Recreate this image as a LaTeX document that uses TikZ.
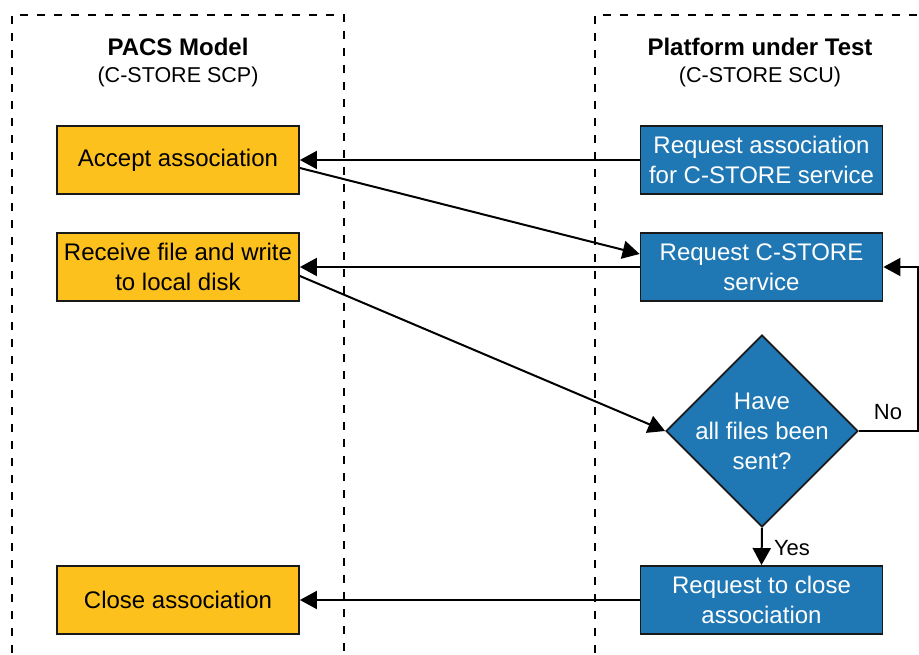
\documentclass[tikz,border=0pt]{standalone}
\usepackage{fontspec}
\setmainfont{Liberation Sans}
\usetikzlibrary{arrows.meta,shapes.geometric}
\definecolor{scpyellow}{RGB}{253,193,30}
\definecolor{scublue}{RGB}{31,119,180}
\definecolor{edgegray}{RGB}{25,25,25}
\tikzset{
  lane/.style={draw=black, line width=2pt, dash pattern=on 8pt off 9pt},
  box/.style={draw=edgegray, line width=1.8pt, minimum width=242pt, minimum height=68pt,
    inner sep=0pt, align=center, font=\fontsize{24}{30}\selectfont},
  scpbox/.style={box, fill=scpyellow, text=black},
  scubox/.style={box, fill=scublue, text=white},
  decision/.style={diamond, draw=edgegray, line width=1.8pt, fill=scublue,
    minimum width=192pt, minimum height=192pt, inner sep=0pt},
  title/.style={font=\fontsize{24}{28}\selectfont\bfseries, anchor=base},
  subtitle/.style={font=\fontsize{21.5}{25}\selectfont, anchor=base},
  flow/.style={line width=2pt, -{Triangle[length=17pt, width=18pt]}},
  tag/.style={font=\fontsize{22}{26}\selectfont}
}
\begin{document}
\begin{tikzpicture}[x=1pt, y=-1pt]
\useasboundingbox (0,0) rectangle (919,655);
% swim lanes, open at the bottom
\draw[lane] (12,670) -- (12,15) -- (344,15) -- (344,670);
\draw[lane] (595,670) -- (595,15) -- (930,15);
% lane headings
\node[title] (scptitle) at (178,56) {PACS Model};
\node[subtitle] (scpsub) at (178,83) {(C-STORE SCP)};
\node[title] (scutitle) at (760,56) {Platform under Test};
\node[subtitle] (scusub) at (760,83) {(C-STORE SCU)};
% PACS model steps
\node[scpbox] (accept) at (178,160) {Accept association};
\node[scpbox] (receive) at (178,267) {Receive file and write\\to local disk};
\node[scpbox] (closeA) at (178,600) {Close association};
% platform steps
\node[scubox] (reqassoc) at (761.5,160) {Request association\\for C-STORE service};
\node[scubox] (reqstore) at (761.5,267) {Request C-STORE\\service};
\node[decision] (sent) at (762,431) {};
\node[align=center, text=white, font=\fontsize{24}{30}\selectfont] (senttxt) at (762,431) {Have\\all files been\\sent?};
\node[scubox] (closeR) at (761.5,600) {Request to close\\association};
% messages between the lanes
\draw[flow] (reqassoc.west) -- (accept.east);
\draw[flow] ([yshift=-8pt]accept.east) -- ([yshift=13pt]reqstore.west);
\draw[flow] (reqstore.west) -- (receive.east);
\draw[flow] ([yshift=-9pt]receive.east) -- (sent.west);
\draw[flow] (closeR.west) -- (closeA.east);
% loop and exit of the decision
\coordinate (loopturn) at (918,431);
\draw[flow] (sent.east) -- (loopturn) |- (reqstore.east);
\node[tag] (no) at (888,412) {No};
\draw[flow] (sent.south) -- (closeR.north);
\node[tag] (yes) at (792,548) {Yes};
\end{tikzpicture}
\end{document}
